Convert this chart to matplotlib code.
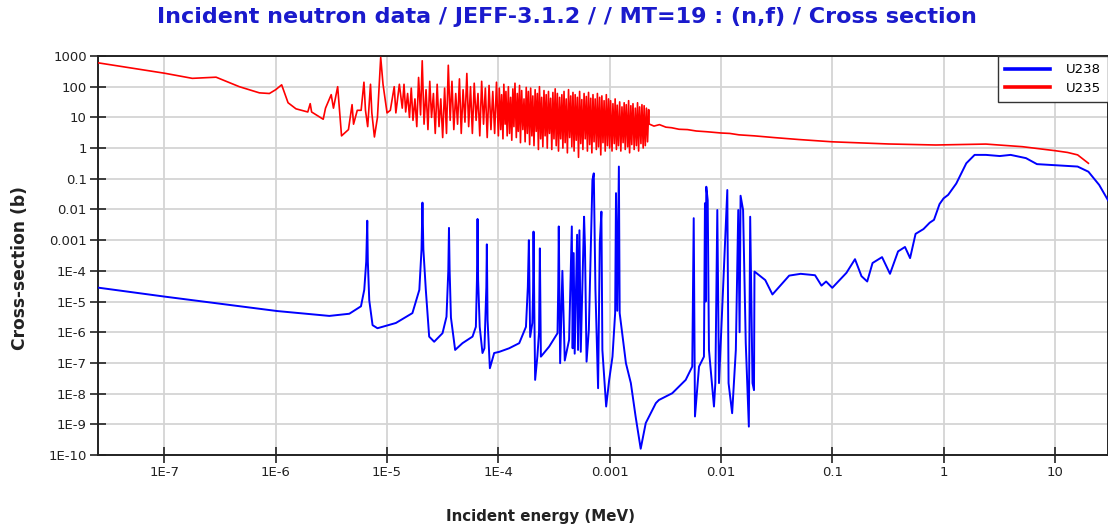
import numpy as np
import matplotlib
matplotlib.use("Agg")
import matplotlib.pyplot as plt
from matplotlib.ticker import FixedLocator, FixedFormatter, NullLocator
from matplotlib.lines import Line2D

# ---------------- data (energies in eV, cross sections in barns) ----------------
u235_low_ev = [0.0253, 0.1, 0.178, 0.291, 0.471, 0.713, 0.877, 1.0, 1.13, 1.29, 1.52, 1.94,
               2.04, 2.10, 2.67, 2.8, 3.15, 3.3, 3.6, 3.9, 4.5, 4.85, 5.0, 5.4, 5.85, 6.2,
               6.4, 6.7, 7.1, 7.3, 7.7, 8.2, 8.77, 9.2, 10.0, 10.7, 11.6, 12.0, 12.9, 13.7, 14.2]
u235_low_xs = [600, 275, 187, 204, 100, 63, 60, 80, 115, 30, 19, 15,
               28, 15, 8.7, 20, 55, 20, 100, 2.5, 4.0, 26, 6, 17, 17, 140,
               17, 5, 120, 14, 2.3, 10, 900, 120, 14, 17, 100, 14, 120, 20, 120]

# resolved resonances 14.7 eV - 96 eV
u235_res1_ev = [14.7, 15.3, 15.9, 16.5, 17.1, 17.8, 18.5, 19.2, 20.0, 20.7, 21.5, 22.4, 23.3,
                24.2, 25.1, 26.1, 27.1, 28.2, 29.3, 30.4, 31.6, 32.9, 34.2, 35.5, 36.9, 38.3,
                39.8, 41.4, 43.0, 44.7, 46.4, 48.2, 50.1, 52.1, 54.1, 56.2, 58.4, 60.7, 63.1,
                65.6, 68.1, 70.8, 73.6, 76.4, 79.4, 82.5, 85.8, 89.1, 92.6, 96.2]
u235_res1_xs = [15, 60, 10, 90, 8, 40, 5, 200, 12, 700, 6, 80, 4, 150, 10, 60, 3, 120, 5, 40,
                2.2, 90, 3, 500, 8, 150, 4, 60, 6, 180, 3, 80, 7, 270, 5, 100, 3, 130, 8, 60,
                2.5, 150, 6, 90, 2.2, 110, 4, 70, 3, 140]

# resolved resonances 100 eV - 1 keV
u235_res2_ev = [100, 102, 105, 107, 110, 112, 115, 117, 120, 123, 126, 129, 132, 135, 138,
                141, 145, 148, 151, 155, 158, 162, 166, 170, 174, 178, 182, 186, 191, 195,
                200, 204, 209, 214, 219, 224, 229, 234, 240, 245, 251, 257, 263, 269, 275,
                282, 288, 295, 302, 309, 316, 324, 331, 339, 347, 355, 363, 372, 380, 389,
                398, 407, 417, 427, 437, 447, 457, 468, 479, 490, 501, 513, 525, 537, 550,
                562, 575, 589, 603, 617, 631, 646, 661, 676, 692, 708, 724, 741, 759, 776,
                794, 813, 832, 851, 871, 891, 912, 933, 955, 977]
u235_res2_xs = [2.5, 90, 4, 55, 2, 120, 6, 70, 2.5, 100,
                3, 45, 1.8, 85, 5, 130, 2.2, 60, 3.5, 110,
                1.5, 75, 4, 40, 1.6, 95, 3, 70, 1.3, 90,
                2.5, 50, 1.2, 80, 3.5, 60, 0.9, 100, 2, 45,
                1.1, 75, 2.5, 55, 1.0, 70, 3, 42, 0.9, 65,
                2, 85, 1.2, 60, 0.8, 45, 2, 55, 1.0, 70,
                1.5, 40, 0.7, 80, 2.2, 50, 1.1, 65, 0.8, 55,
                1.8, 45, 0.5, 70, 1.4, 38, 0.9, 60, 2, 48,
                0.8, 65, 1.3, 42, 0.7, 55, 1.6, 40, 0.9, 60,
                1.1, 45, 0.6, 50, 1.5, 35, 0.8, 55, 1.2, 40]

# resolved resonances 1 keV - 2.25 keV
u235_res3_ev = [1000, 1020, 1050, 1070, 1100, 1120, 1150, 1170, 1200, 1230, 1260, 1290,
                1320, 1350, 1380, 1410, 1450, 1480, 1510, 1550, 1580, 1620, 1660, 1700,
                1740, 1780, 1820, 1860, 1910, 1950, 2000, 2040, 2090, 2140, 2190, 2240]
u235_res3_xs = [1.0, 35, 0.8, 28, 1.4, 40, 0.9, 25, 1.2, 32,
                0.8, 22, 1.5, 30, 0.9, 26, 1.1, 35, 0.7, 24,
                1.3, 28, 0.9, 20, 1.2, 30, 0.8, 22, 1.4, 26,
                1.0, 24, 1.2, 20, 1.6, 18]

u235_high_ev = [2260, 2500, 2800, 3200, 3600, 4200, 5000, 6000, 7500, 1.0e4, 1.2e4, 1.45e4,
                2.0e4, 3.0e4, 5.0e4, 1.0e5, 3.2e5, 8.5e5, 2.4e6, 5.1e6, 1.01e7, 1.3e7,
                1.6e7, 2.0e7]
u235_high_xs = [6.1, 5.2, 5.8, 4.8, 4.6, 4.1, 4.0, 3.6, 3.4, 3.1, 3.0, 2.7,
                2.5, 2.2, 1.9, 1.6, 1.36, 1.26, 1.35, 1.11, 0.82, 0.72,
                0.6, 0.32]

u238_res_ev = [0.0253, 0.1, 1.03, 3.03, 4.58, 5.83, 6.24, 6.5, 6.64, 6.72, 6.92, 7.41, 8.2,
               12.0, 16.9, 19.5, 20.4, 20.8, 21.2, 22.3, 23.9, 26.5, 31.5, 34.2, 35.5, 36.0,
               36.5, 37.5, 40.9, 47.6, 58.6, 62.8, 64.2, 65.0, 65.8, 68.0, 72.0, 75.0, 78.0,
               78.8, 80.0, 83.9, 91.7, 102, 125, 154, 177, 184, 188, 193, 202, 205, 207, 210,
               214, 224, 232, 236, 241, 286, 340, 345, 349, 359, 376, 395, 432, 457, 465,
               475, 485, 510, 520, 535, 550, 589, 600, 620, 650, 700, 720, 745, 787, 815,
               843, 860, 930, 990, 1060, 1120, 1140, 1170, 1210, 1230, 1400, 1550, 1710,
               1900, 2110, 2340, 2600, 2770, 3650, 4820, 5520, 5690, 5840, 6350, 7030,
               7180, 7280, 7380, 7600, 7800, 8650, 8900, 9270, 9600, 11400, 11700, 12600,
               13600, 14300, 14700, 15000, 15800, 16700, 17800, 18300, 19200, 19800]
u238_res_xs = [2.84e-5, 1.45e-5, 4.9e-6, 3.4e-6, 4.0e-6, 7.0e-6, 2.4e-5, 2.0e-4, 4.3e-3,
               2.0e-4, 1.1e-5, 1.7e-6, 1.35e-6, 2.0e-6, 4.2e-6, 2.4e-5, 5e-4, 1.67e-2, 5e-4,
               2.4e-5, 7.2e-7, 4.9e-7, 9.3e-7, 3.2e-6, 1e-4, 2.5e-3, 1e-4, 3e-6, 2.65e-7,
               4.4e-7, 7.2e-7, 1.5e-6, 5e-5, 4.9e-3, 5e-5, 1.5e-6, 2.1e-7, 3e-7, 3e-5,
               7.3e-4, 2.5e-6, 6.7e-8, 2.1e-7, 2.3e-7, 3.0e-7, 4.4e-7, 1.5e-6, 3e-5, 1e-3,
               7e-7, 2e-6, 2e-5, 1.9e-3, 1e-5, 2.8e-8, 1.6e-7, 1e-6, 5.4e-4, 1.6e-7, 3.4e-7,
               9.3e-7, 3e-5, 2.8e-3, 9.8e-8, 1e-4, 1.2e-7, 5.6e-7, 2.8e-3, 3e-7, 3.8e-4,
               2e-7, 1.5e-3, 2.65e-7, 2.1e-3, 2.3e-7, 5.8e-3, 6e-4, 1.1e-7, 1.2e-6, 0.091,
               0.15, 2.4e-5, 1.5e-8, 8e-4, 8.5e-3, 2.65e-7, 3.8e-9, 2.8e-8, 1.6e-7, 4.2e-6,
               0.034, 5e-6, 0.25, 4.2e-6, 9.8e-8, 2.2e-8, 1.8e-9, 1.6e-10, 1.1e-9, 2.3e-9,
               4.9e-9, 6.2e-9, 1.03e-8, 2.8e-8, 7.6e-8, 5.2e-3, 1.8e-9, 7.6e-8, 1.6e-7,
               0.016, 1e-5, 0.055, 0.02, 2.65e-7, 3.8e-9, 2.2e-8, 0.0096, 2.2e-8, 0.043,
               2.2e-8, 2.3e-9, 2.65e-7, 0.0096, 1e-6, 0.028, 0.0096, 4.4e-7, 8.4e-10,
               5.8e-3, 2.2e-8, 1.3e-8]

u238_high_ev = [2.0e4, 2.5e4, 2.9e4, 4.1e4, 5.2e4, 7.0e4, 8.0e4, 8.8e4, 1.0e5, 1.34e5,
                1.6e5, 1.83e5, 2.06e5, 2.3e5, 2.8e5, 3.3e5, 3.9e5, 4.5e5, 5.0e5, 5.6e5,
                6.6e5, 7.5e5, 8.2e5, 9.2e5, 1.0e6, 1.1e6, 1.3e6, 1.6e6, 1.9e6, 2.4e6,
                3.2e6, 4.0e6, 5.5e6, 6.9e6, 1.1e7, 1.6e7, 2.0e7, 2.5e7, 3.0e7]
u238_high_xs = [9.5e-5, 5e-5, 1.7e-5, 7e-5, 8e-5, 7.2e-5, 3.3e-5, 4.5e-5, 2.8e-5, 8.6e-5,
                2.4e-4, 6.7e-5, 4.5e-5, 1.8e-4, 2.8e-4, 8e-5, 4.3e-4, 6e-4, 2.6e-4, 1.6e-3,
                2.3e-3, 3.7e-3, 4.6e-3, 0.015, 0.023, 0.03, 0.07, 0.32, 0.6, 0.6,
                0.55, 0.6, 0.47, 0.3, 0.27, 0.25, 0.17, 0.063, 0.02]

xtick_vals = [1e-7, 1e-6, 1e-5, 1e-4, 1e-3, 1e-2, 1e-1, 1, 10]
xtick_labels = ["1E-7", "1E-6", "1E-5", "1E-4", "0.001", "0.01", "0.1", "1", "10"]
ytick_vals = [1e-10, 1e-9, 1e-8, 1e-7, 1e-6, 1e-5, 1e-4, 1e-3, 1e-2, 1e-1, 1, 10, 100, 1000]
ytick_labels = ["1E-10", "1E-9", "1E-8", "1E-7", "1E-6", "1E-5", "1E-4", "0.001", "0.01",
                "0.1", "1", "10", "100", "1000"]

series_names = ["U238", "U235"]
series_colors = ["#0000ff", "#ff0000"]

# ---------------- figure ----------------
W, H = 1108, 530
fig = plt.figure(figsize=(W / 100, H / 100), dpi=100)
ax = fig.add_axes([98 / W, 1 - 455 / H, 1 - 98 / W, (455 - 56) / H])
ax.set_xscale("log")
ax.set_yscale("log")

u238_e = np.concatenate([u238_res_ev, u238_high_ev]) * 1e-6
u238_s = np.concatenate([u238_res_xs, u238_high_xs])
u235_e = np.concatenate([u235_low_ev, u235_res1_ev, u235_res2_ev, u235_res3_ev,
                         u235_high_ev]) * 1e-6
u235_s = np.concatenate([u235_low_xs, u235_res1_xs, u235_res2_xs, u235_res3_xs,
                         u235_high_xs])

ax.plot(u238_e, u238_s, color=series_colors[0], lw=1.4, zorder=3)
ax.plot(u235_e, u235_s, color=series_colors[1], lw=1.2, zorder=3)

ax.set_xlim(2.53e-8, 30)
ax.set_ylim(1e-10, 1000)
ax.xaxis.set_major_locator(FixedLocator(xtick_vals))
ax.xaxis.set_major_formatter(FixedFormatter(xtick_labels))
ax.xaxis.set_minor_locator(NullLocator())
ax.yaxis.set_major_locator(FixedLocator(ytick_vals))
ax.yaxis.set_major_formatter(FixedFormatter(ytick_labels))
ax.yaxis.set_minor_locator(NullLocator())

ax.grid(True, which="major", color="#d4d4d4", lw=1.3)
ax.set_axisbelow(True)
ax.tick_params(direction="inout", length=12, width=1.2, labelsize=9.5, pad=2,
               colors="#222222")
for sp in ax.spines.values():
    sp.set_linewidth(1.4)
    sp.set_color("#222222")

handles = [Line2D([0], [0], color=c, lw=2.6) for c in series_colors]
leg = ax.legend(handles, series_names, loc="upper right", bbox_to_anchor=(1.0, 1.0),
                borderaxespad=0, fontsize=9.5, handlelength=3.4, handletextpad=1.2,
                labelspacing=0.4, borderpad=0.55, fancybox=False, framealpha=1)
leg.get_frame().set_edgecolor("#333333")
leg.get_frame().set_linewidth(1.0)

fig.text(567 / W, 1 - 17 / H, "Incident neutron data / JEFF-3.1.2 / / MT=19 : (n,f) / Cross section",
         ha="center", va="center", fontsize=16, fontweight="bold", color="#1a1acc")
fig.text(20 / W, 1 - 268 / H, "Cross-section (b)", rotation=90, ha="center", va="center",
         fontsize=12.3, fontweight="bold", color="#222222")
fig.text(540 / W, 1 - 516 / H, "Incident energy (MeV)", ha="center", va="center",
         fontsize=10.8, fontweight="bold", color="#222222")

fig.savefig("out.png", dpi=100)
